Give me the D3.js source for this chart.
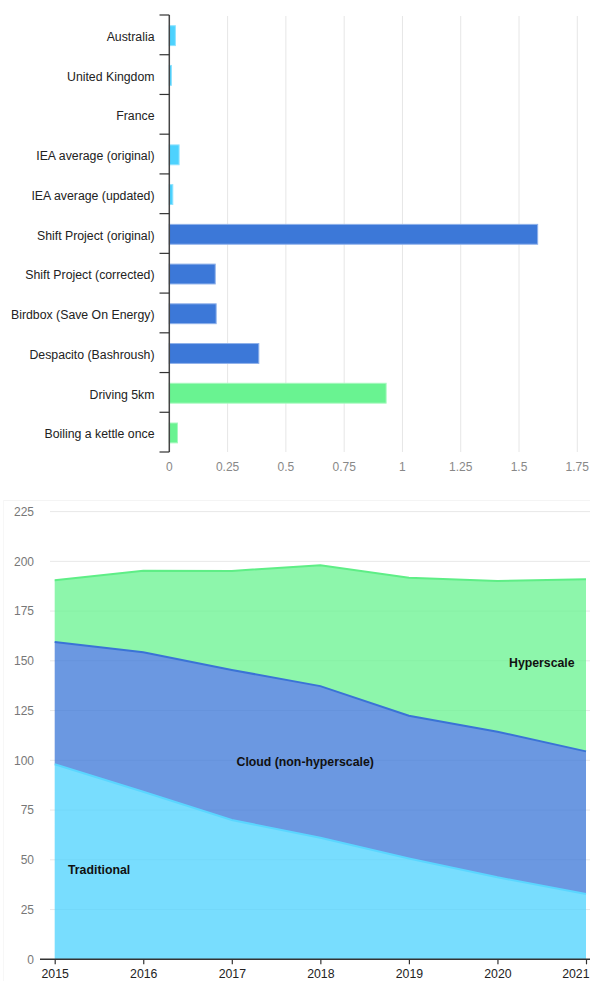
<!DOCTYPE html>
<html>
<head>
<meta charset="utf-8">
<script src="https://cdn.jsdelivr.net/npm/d3@7"></script>
<style>
  html, body { margin: 0; padding: 0; background: #fff; }
  svg { display: block; font-family: "Liberation Sans", Arial, sans-serif; }
</style>
</head>
<body>
<svg id="chart" width="590" height="981"></svg>
<script>
// ---- Bar chart data ----
const barCategories = [
  "Australia", "United Kingdom", "France", "IEA average (original)", "IEA average (updated)",
  "Shift Project (original)", "Shift Project (corrected)", "Birdbox (Save On Energy)",
  "Despacito (Bashroush)", "Driving 5km", "Boiling a kettle once"
];
const barValues = [0.026, 0.009, 0, 0.042, 0.015, 1.58, 0.197, 0.201, 0.384, 0.93, 0.035];
const barGroups = ["grid", "grid", "grid", "grid", "grid", "video", "video", "video", "video", "other", "other"];
const barTicks = [0, 0.25, 0.5, 0.75, 1, 1.25, 1.5, 1.75];
const barTickLabels = ["0", "0.25", "0.5", "0.75", "1", "1.25", "1.5", "1.75"];

// ---- Area chart data ----
const years = [2015, 2016, 2017, 2018, 2019, 2020, 2021];
const traditional = [98, 84.2, 70, 61.1, 50.7, 41.2, 32.8];
const cloud = [61.5, 70.1, 75.4, 76.2, 71.7, 73.2, 71.7];
const hyperscale = [31, 41, 49.8, 60.7, 69.4, 75.7, 86.5];
const areaSeries = ["Traditional", "Cloud (non-hyperscale)", "Hyperscale"];
const areaTicks = [0, 25, 50, 75, 100, 125, 150, 175, 200, 225];

const svg = d3.select("#chart");

// ================= BAR CHART =================
const groupColor = d3.scaleOrdinal().domain(["grid", "video", "other"]).range(["#4dd2fe", "#3c78d8", "#69f391"]);
const groupStroke = d3.scaleOrdinal().domain(["grid", "video", "other"]).range(["#8ee3ff", "#8fb1ea", "#a6f8be"]);

const bx = d3.scaleLinear().domain([0, 1.75]).range([169.3, 577.3]);
const by = d3.scaleBand().domain(barCategories).range([15, 452]).paddingInner(0.5).paddingOuter(0.25);

const barG = svg.append("g");

// gridlines
barG.selectAll("line.grid").data(barTicks.slice(1)).join("line")
  .attr("x1", d => bx(d)).attr("x2", d => bx(d))
  .attr("y1", 16).attr("y2", 452)
  .attr("stroke", "#e6e6e6").attr("stroke-width", 1);

// bars
barG.selectAll("rect.bar").data(barCategories).join("rect")
  .attr("x", bx(0))
  .attr("y", d => by(d) + 0.8)
  .attr("width", (d, i) => Math.max(0, bx(barValues[i]) - bx(0)))
  .attr("height", by.bandwidth())
  .attr("fill", (d, i) => groupColor(barGroups[i]))
  .attr("stroke", (d, i) => barValues[i] > 0 ? groupStroke(barGroups[i]) : "none")
  .attr("stroke-width", 1);

// y axis line and ticks at band boundaries
const step = by.step();
const boundaries = d3.range(barCategories.length + 1).map(i => 15 + i * step);
barG.append("line")
  .attr("x1", bx(0)).attr("x2", bx(0)).attr("y1", 15).attr("y2", 452)
  .attr("stroke", "#444").attr("stroke-width", 1.5);
barG.selectAll("line.tk").data(boundaries).join("line")
  .attr("x1", 159.5).attr("x2", bx(0)).attr("y1", d => d).attr("y2", d => d)
  .attr("stroke", "#333").attr("stroke-width", 1.2);

// category labels
barG.selectAll("text.cat").data(barCategories).join("text")
  .attr("x", 154.5)
  .attr("y", d => by(d) + by.bandwidth() / 2 + 1.8)
  .attr("dy", "0.35em")
  .attr("text-anchor", "end")
  .attr("font-size", 12.3)
  .attr("fill", "#222")
  .text(d => d);

// x tick labels
barG.selectAll("text.xt").data(barTicks).join("text")
  .attr("x", d => bx(d))
  .attr("y", 467)
  .attr("dy", "0.35em")
  .attr("text-anchor", "middle")
  .attr("font-size", 12)
  .attr("fill", "#888")
  .text((d, i) => barTickLabels[i]);

// ================= AREA CHART =================
const areaG = svg.append("g");
// faint container border
areaG.append("line").attr("x1", 3).attr("x2", 590).attr("y1", 500.5).attr("y2", 500.5)
  .attr("stroke", "#f4f4f4");
areaG.append("line").attr("x1", 3.5).attr("x2", 3.5).attr("y1", 500).attr("y2", 981)
  .attr("stroke", "#f7f7f7");

const ax = d3.scaleLinear().domain([2015, 2021]).range([54.7, 586]);
const ay = d3.scaleLinear().domain([0, 225]).range([959.3, 511.6]);

// gridlines
areaG.selectAll("line.ag").data(areaTicks.slice(1)).join("line")
  .attr("x1", 50).attr("x2", 590)
  .attr("y1", d => ay(d)).attr("y2", d => ay(d))
  .attr("stroke", "#e8e8e8").attr("stroke-width", 1);

// y labels
areaG.selectAll("text.ay").data(areaTicks).join("text")
  .attr("x", 34)
  .attr("y", d => ay(d))
  .attr("dy", "0.35em")
  .attr("text-anchor", "end")
  .attr("font-size", 12)
  .attr("fill", "#777")
  .text(d => d);

const table = years.map((y, i) => ({ year: y, Traditional: traditional[i], "Cloud (non-hyperscale)": cloud[i], Hyperscale: hyperscale[i] }));
const stack = d3.stack().keys(areaSeries)(table);
const areaColor = d3.scaleOrdinal().domain(areaSeries).range(["#4dd2fe", "#3c78d8", "#69f391"]);
const lineColor = d3.scaleOrdinal().domain(areaSeries).range(["#5ad6ff", "#3a73d6", "#5eee86"]);

const area = d3.area().x(d => ax(d.data.year)).y0(d => ay(d[0])).y1(d => ay(d[1]));
const topLine = d3.line().x(d => ax(d.data.year)).y(d => ay(d[1]));

areaG.selectAll("path.area").data(stack).join("path")
  .attr("d", area)
  .attr("fill", d => areaColor(d.key))
  .attr("fill-opacity", 0.76);
areaG.selectAll("path.top").data(stack).join("path")
  .attr("d", topLine)
  .attr("fill", "none")
  .attr("stroke", d => lineColor(d.key))
  .attr("stroke-width", 2);

// x axis
const xAxis = d3.axisBottom(ax).tickValues(years).tickFormat(d3.format("d")).tickSize(5).tickSizeOuter(0);
const xg = areaG.append("g").attr("transform", `translate(0,${ay(0)})`).call(xAxis);
xg.attr("font-family", null);
xg.select(".domain").attr("stroke", "#333").attr("stroke-width", 1.5).attr("d", `M40,0H590`);
xg.selectAll(".tick line").attr("stroke", "#333").attr("stroke-width", 1.2);
xg.selectAll(".tick text").attr("font-size", 12.3).attr("fill", "#222").attr("dy", "0.9em")
  .attr("text-anchor", d => d === 2021 ? "end" : "middle")
  .attr("dx", d => d === 2021 ? 3 : 0);

// series labels
const labelPos = [
  { text: "Traditional", x: 68, y: 870, anchor: "start" },
  { text: "Cloud (non-hyperscale)", x: 236.5, y: 762, anchor: "start" },
  { text: "Hyperscale", x: 509, y: 663, anchor: "start" }
];
areaG.selectAll("text.lbl").data(labelPos).join("text")
  .attr("x", d => d.x).attr("y", d => d.y).attr("dy", "0.35em")
  .attr("text-anchor", d => d.anchor)
  .attr("font-size", 12.3).attr("font-weight", "bold").attr("fill", "#111")
  .text(d => d.text);
</script>
</body>
</html>
